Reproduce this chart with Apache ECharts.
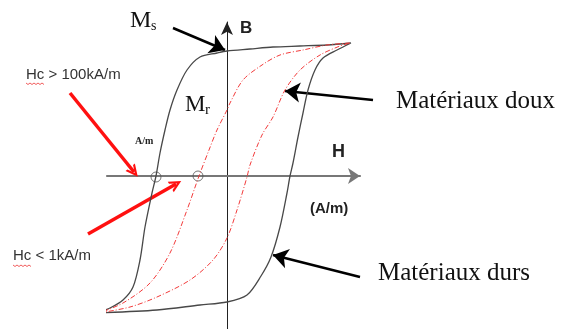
<!DOCTYPE html>
<html lang="fr">
<head>
    <meta charset="UTF-8">
    <title>Cycle d'hystérésis</title>
    <script src="https://cdn.jsdelivr.net/npm/echarts@6/dist/echarts.min.js"></script>
    <style>
        html, body { margin: 0; padding: 0; background: #fff; }
        #main { width: 566px; height: 329px; }
    </style>
</head>
<body>
<div id="main"></div>

<script>
    // loop points: [H, B], origin where the axes cross
    var durDown = [[124, 133], [100, 131], [73, 130], [46, 129], [23, 127], [0, 125], [-10, 123], [-27, 119],
        [-40, 106], [-50, 86], [-57, 66], [-62, 46], [-67, 23], [-71, 0], [-75, -17], [-82, -51],
        [-87, -84], [-94, -111], [-104, -124], [-117, -132], [-130, -137]];
    var durUp = [[-130, -137], [-70, -134], [-27, -129], [0, -126], [20, -119], [34, -100], [44, -81],
        [53, -51], [60, -17], [63, 0], [66, 13], [71, 39], [76, 63], [81, 86], [88, 106], [96, 118],
        [110, 126], [124, 133]];
    var douxDown = [[123, 133], [100, 131], [76, 126], [53, 121], [35, 111], [16, 96], [3, 73], [0, 66],
        [-10, 46], [-18, 26], [-28, 0], [-40, -34], [-57, -77], [-77, -107], [-104, -127], [-128, -137]];
    var douxUp = [[-128, -137], [-97, -131], [-70, -121], [-37, -104], [-14, -84], [0, -62], [10, -34],
        [20, -1], [23, 11], [35, 41], [46, 59], [58, 86], [73, 106], [93, 121], [113, 130], [123, 133]];
    // coercive field points (circles on the H axis)
    var hcPoints = [[-71, -1], [-29, 0]];

    var chart = echarts.init(document.getElementById('main'));

    var serif = '"Liberation Serif", "DejaVu Serif", serif';
    var sans = '"Liberation Sans", Arial, sans-serif';
    var chevron = 'path://M0,10 L5,0 L10,10 L8,10 L5,4 L2,10 Z';

    function txt(x, y, text, font, color) {
        return {
            type: 'text', x: x, y: y, silent: true,
            style: { text: text, font: font, fill: color || '#111', textAlign: 'left', textVerticalAlign: 'middle' }
        };
    }

    function zigzag(x0, y0, len) {
        var pts = [];
        for (var i = 0; i <= len; i += 2) pts.push([x0 + i, y0 + (i % 4 === 0 ? 0 : 1.5)]);
        return { type: 'polyline', silent: true, shape: { points: pts }, style: { stroke: '#e33', lineWidth: 0.8, fill: null } };
    }

    var option = {
        animation: false,
        grid: { left: 107, right: 206, top: 22, bottom: 0 },
        xAxis: {
            type: 'value', min: -120, max: 133,
            axisLine: { onZero: true, symbol: ['none', 'arrow'], symbolSize: [12, 12], lineStyle: { color: '#777', width: 2.2 } },
            axisTick: { show: false }, axisLabel: { show: false }, splitLine: { show: false }
        },
        yAxis: {
            type: 'value', min: -153, max: 154,
            axisLine: { onZero: true, symbol: ['none', 'arrow'], symbolSize: [9, 13], lineStyle: { color: '#222', width: 1 } },
            axisTick: { show: false }, axisLabel: { show: false }, splitLine: { show: false }
        },
        series: [
            {
                name: 'Matériaux durs', type: 'line', clip: false, smooth: 0.3, showSymbol: false,
                data: durDown.concat(durUp.slice(1)),
                lineStyle: { color: '#484848', width: 1.3 }
            },
            {
                name: 'Matériaux doux', type: 'line', clip: false, smooth: 0.3, showSymbol: false,
                data: douxDown.concat(douxUp.slice(1)),
                lineStyle: { color: '#f23a3a', width: 1, type: [5, 2, 1, 2] }
            },
            {
                type: 'scatter', clip: false, symbol: 'circle', symbolSize: 10,
                data: hcPoints,
                itemStyle: { color: 'rgba(0,0,0,0)', borderColor: '#555', borderWidth: 1 }
            },
            {
                type: 'lines', coordinateSystem: 'cartesian2d', clip: false, silent: true,
                symbol: ['none', 'arrow'], symbolSize: 15,
                lineStyle: { color: '#000', width: 2.5, opacity: 1, curveness: 0 },
                data: [
                    { coords: [[-54, 148], [-2, 126]] },
                    { coords: [[146, 76], [58, 85]] },
                    { coords: [[133, -101], [46, -79]] }
                ]
            },
            {
                type: 'lines', coordinateSystem: 'cartesian2d', clip: false, silent: true,
                symbol: ['none', chevron], symbolSize: [15, 12],
                lineStyle: { color: '#ff1010', width: 3.5, opacity: 1, curveness: 0 },
                data: [
                    { coords: [[-157, 83], [-93, 4]] },
                    { coords: [[-139, -58], [-51, -8]] }
                ]
            }
        ],
        graphic: [
            txt(130, 21, 'M', '24px ' + serif),
            txt(151, 26, 's', '14px ' + serif),
            txt(185, 105, 'M', '23px ' + serif),
            txt(205, 110, 'r', '15px ' + serif),
            txt(396, 101, 'Matériaux doux', '25px ' + serif),
            txt(378, 273, 'Matériaux durs', '25px ' + serif),
            txt(26, 75, 'Hc > 100kA/m', '15px ' + sans, '#333'),
            txt(13, 256, 'Hc < 1kA/m', '15px ' + sans, '#333'),
            txt(135, 141, 'A/m', 'bold 10px ' + serif, '#222'),
            txt(240, 28, 'B', 'bold 17px ' + sans, '#222'),
            txt(332, 152, 'H', 'bold 18px ' + sans, '#222'),
            txt(310, 209, '(A/m)', 'bold 15px ' + sans, '#222'),
            zigzag(26, 83, 18),
            zigzag(13, 265, 18)
        ]
    };

    chart.setOption(option);
</script>
</body>
</html>
